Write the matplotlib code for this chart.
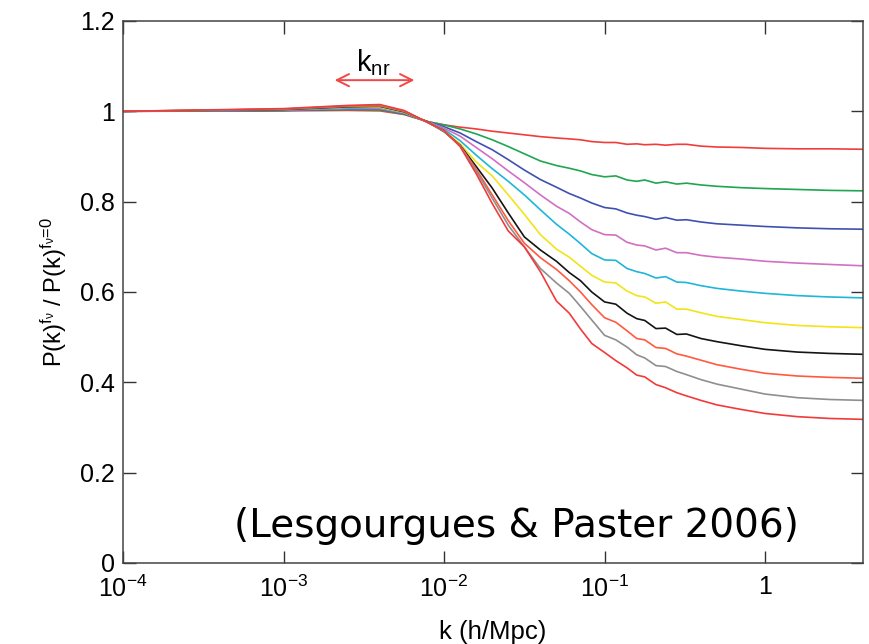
"""Neutrino suppression of the matter power spectrum, P(k)^fnu / P(k)^fnu=0."""

import numpy as np
import matplotlib
matplotlib.use("Agg")
import matplotlib.pyplot as plt

plt.rcParams["font.family"] = ["Liberation Sans", "DejaVu Sans"]
plt.rcParams["mathtext.fontset"] = "custom"
plt.rcParams["mathtext.rm"] = "Liberation Sans"
plt.rcParams["mathtext.it"] = "Liberation Sans:italic"

# log10(k) sampling shared by every curve (k in h/Mpc)
LOGK = [-4.0, -3.0, -2.6, -2.4, -2.25, -2.1, -2.0, -1.9, -1.8, -1.7,
        -1.6, -1.5, -1.4, -1.3, -1.22, -1.15, -1.08, -1.0, -0.93, -0.86,
        -0.8, -0.75, -0.68, -0.62, -0.55, -0.49, -0.4, -0.3, -0.15, 0.0,
        0.2, 0.4, 0.61]

# ratio curves, smallest to largest neutrino fraction
R01 = [1.000, 1.001, 1.002, 1.001, 0.993, 0.977, 0.970, 0.965, 0.961, 0.956,
       0.952, 0.948, 0.944, 0.941, 0.939, 0.937, 0.933, 0.931, 0.931, 0.927,
       0.928, 0.926, 0.927, 0.925, 0.927, 0.927, 0.923, 0.921, 0.920, 0.918,
       0.917, 0.917, 0.916]
R02 = [1.000, 1.002, 1.004, 1.003, 0.994, 0.977, 0.970, 0.961, 0.950, 0.937,
       0.922, 0.906, 0.890, 0.880, 0.874, 0.868, 0.860, 0.855, 0.857, 0.848,
       0.845, 0.848, 0.841, 0.844, 0.839, 0.841, 0.837, 0.834, 0.831, 0.829,
       0.827, 0.825, 0.824]
R03 = [1.000, 1.002, 1.005, 1.005, 0.995, 0.977, 0.966, 0.952, 0.933, 0.915,
       0.893, 0.870, 0.849, 0.832, 0.818, 0.808, 0.797, 0.787, 0.784, 0.775,
       0.770, 0.767, 0.761, 0.765, 0.759, 0.760, 0.755, 0.751, 0.748, 0.745,
       0.742, 0.740, 0.739]
R04 = [1.000, 1.003, 1.006, 1.006, 0.996, 0.977, 0.963, 0.945, 0.920, 0.895,
       0.868, 0.842, 0.815, 0.790, 0.774, 0.755, 0.738, 0.727, 0.726, 0.710,
       0.704, 0.702, 0.693, 0.697, 0.687, 0.687, 0.681, 0.677, 0.673, 0.668,
       0.664, 0.661, 0.658]
R05 = [1.000, 1.003, 1.007, 1.008, 0.997, 0.976, 0.960, 0.935, 0.903, 0.873,
       0.845, 0.815, 0.782, 0.750, 0.728, 0.707, 0.685, 0.671, 0.670, 0.652,
       0.645, 0.641, 0.631, 0.634, 0.622, 0.621, 0.614, 0.608, 0.602, 0.597,
       0.592, 0.589, 0.587]
R06 = [1.000, 1.004, 1.009, 1.009, 0.998, 0.976, 0.957, 0.928, 0.888, 0.857,
       0.815, 0.772, 0.727, 0.695, 0.677, 0.657, 0.637, 0.622, 0.620, 0.602,
       0.592, 0.589, 0.575, 0.578, 0.562, 0.562, 0.554, 0.546, 0.539, 0.532,
       0.526, 0.523, 0.521]
R07 = [1.000, 1.004, 1.010, 1.011, 0.999, 0.976, 0.955, 0.925, 0.878, 0.830,
       0.775, 0.722, 0.693, 0.668, 0.643, 0.625, 0.600, 0.578, 0.573, 0.553,
       0.541, 0.537, 0.519, 0.520, 0.506, 0.507, 0.497, 0.490, 0.481, 0.473,
       0.467, 0.464, 0.462]
R08 = [1.000, 1.005, 1.011, 1.012, 1.000, 0.975, 0.956, 0.924, 0.872, 0.815,
       0.758, 0.708, 0.676, 0.650, 0.625, 0.600, 0.572, 0.543, 0.533, 0.514,
       0.497, 0.494, 0.477, 0.475, 0.463, 0.458, 0.449, 0.439, 0.429, 0.420,
       0.414, 0.411, 0.409]
R09 = [1.000, 1.005, 1.012, 1.013, 1.001, 0.975, 0.956, 0.923, 0.868, 0.808,
       0.748, 0.700, 0.652, 0.620, 0.597, 0.568, 0.538, 0.504, 0.494, 0.478,
       0.461, 0.454, 0.437, 0.435, 0.424, 0.417, 0.406, 0.396, 0.385, 0.374,
       0.366, 0.362, 0.360]
R10 = [1.000, 1.006, 1.013, 1.015, 1.002, 0.975, 0.958, 0.922, 0.862, 0.796,
       0.735, 0.700, 0.645, 0.580, 0.553, 0.518, 0.486, 0.466, 0.448, 0.432,
       0.416, 0.412, 0.395, 0.388, 0.377, 0.370, 0.360, 0.350, 0.340, 0.331,
       0.324, 0.320, 0.318]

COLORS = ["#f23c3c", "#1ea650", "#3f51b0", "#d26fc2", "#1fb6d8",
          "#f2e418", "#141414", "#ff5a3e", "#8f8f8f", "#f23a3a"]

XTICKS = [1e-4, 1e-3, 1e-2, 1e-1, 1]
XTICKLABELS = ["$10^{-4}$", "$10^{-3}$", "$10^{-2}$", "$10^{-1}$", "1"]
YTICKS = [0, 0.2, 0.4, 0.6, 0.8, 1.0, 1.2]
YTICKLABELS = ["0", "0.2", "0.4", "0.6", "0.8", "1", "1.2"]

# k_nr marker: double arrow span and label position
KNR_SPAN = (2.0e-3, 6.8e-3)
KNR_Y = 1.069
KNR_LABEL = (3.6e-3, 1.108)
CITE_POS = (4.9e-4, 0.058)

fig = plt.figure(figsize=(8.7, 6.44), dpi=100)
ax = fig.add_axes([0.1414, 0.1258, 0.8506, 0.8416])

k = 10.0 ** np.array(LOGK)
for ratio, color in zip([R01, R02, R03, R04, R05, R06, R07, R08, R09, R10], COLORS):
    ax.plot(k, ratio, color=color, lw=1.2, solid_joinstyle="round")

ax.set_xscale("log")
ax.set_xlim(1e-4, 10 ** 0.61)
ax.set_ylim(0, 1.2)

ax.set_xticks(XTICKS)
ax.set_xticklabels(XTICKLABELS)
ax.set_yticks(YTICKS)
ax.set_yticklabels(YTICKLABELS)
ax.minorticks_off()
ax.tick_params(direction="in", length=9, width=1.0, color="#333333",
               top=True, right=True, labelsize=18, labelcolor="black")
ax.tick_params(axis="y", pad=6)
ax.tick_params(axis="x", pad=9)
for sp in ax.spines.values():
    sp.set_color("#444444")
    sp.set_linewidth(1.1)

ax.set_xlabel("k (h/Mpc)", fontsize=18.5, labelpad=13)
ax.set_ylabel(r"P(k)$^{\mathregular{f_\nu}}$ / P(k)$^{\mathregular{f_\nu\!=\!0}}$",
              fontsize=17, labelpad=8)

ax.annotate("", xy=(KNR_SPAN[0], KNR_Y), xytext=(KNR_SPAN[1], KNR_Y),
            arrowprops=dict(arrowstyle="<->", color="#f04848", lw=1.4,
                            mutation_scale=22))
ax.text(KNR_LABEL[0], KNR_LABEL[1], r"k$_{\mathregular{nr}}$", fontsize=21,
        ha="center", va="center")

ax.text(CITE_POS[0], CITE_POS[1], "(Lesgourgues & Paster 2006)",
        family="DejaVu Sans", fontsize=28, ha="left", va="baseline")

fig.savefig("out.png", dpi=100)
